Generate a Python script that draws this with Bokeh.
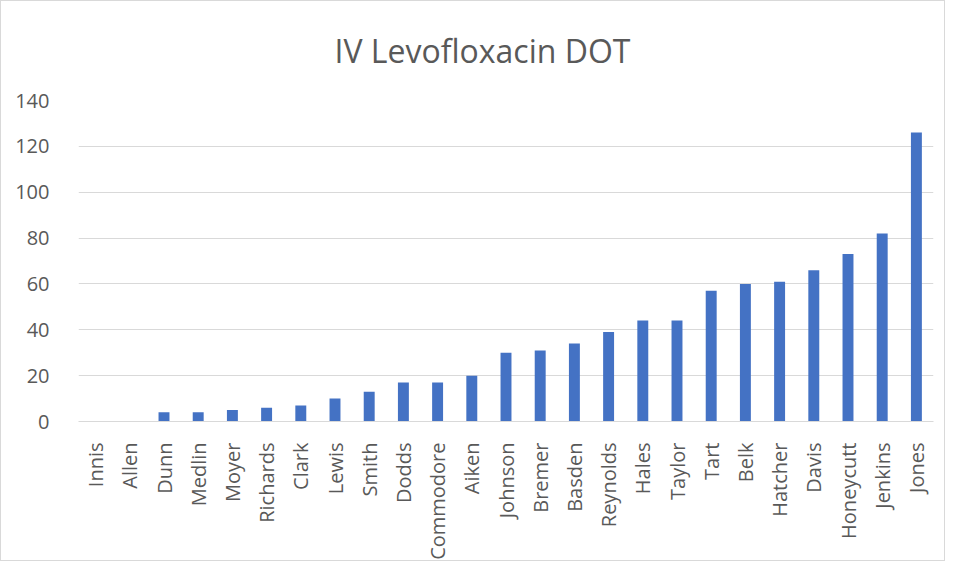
import math
from bokeh.plotting import figure
from bokeh.models import Range1d, SingleIntervalTicker
from bokeh.embed import file_html
from bokeh.resources import INLINE

names = ["Innis", "Allen", "Dunn", "Medlin", "Moyer", "Richards", "Clark", "Lewis",
         "Smith", "Dodds", "Commodore", "Aiken", "Johnson", "Bremer", "Basden",
         "Reynolds", "Hales", "Taylor", "Tart", "Belk", "Hatcher", "Davis",
         "Honeycutt", "Jenkins", "Jones"]
dot_values = [0, 0, 4, 4, 5, 6, 7, 10, 13, 17, 17, 20, 30, 31, 34, 39, 44, 44,
              57, 60, 61, 66, 73, 82, 126]
y_ticks_step = 20
chart_title = "IV Levofloxacin DOT"

TXT = "#595959"
GRID = "#D9D9D9"

p = figure(x_range=names, y_range=Range1d(0, 140), width=945, height=561,
           output_backend="svg", toolbar_location=None, title=chart_title,
           min_border_left=77, min_border_right=13, min_border_top=99,
           min_border_bottom=140)

p.vbar(x=names, top=dot_values, width=0.32, fill_color="#4472C4", line_color=None)

p.title.align = "left"
p.title.vertical_align = "top"
p.title.text_font = "Open Sans"
p.title.text_font_size = "32px"
p.title.text_font_style = "normal"
p.title.text_color = TXT
p.title.standoff = 53
p.title.offset = 256

p.outline_line_color = None
p.xgrid.grid_line_color = None
p.ygrid.grid_line_color = GRID
p.ygrid.grid_line_width = 1

p.yaxis.ticker = SingleIntervalTicker(interval=y_ticks_step)
p.yaxis.axis_line_color = None
p.yaxis.major_tick_line_color = None
p.yaxis.minor_tick_line_color = None
p.yaxis.major_label_text_font = "Open Sans"
p.yaxis.major_label_text_font_size = "20px"
p.yaxis.major_label_text_color = TXT
p.yaxis.major_label_standoff = 23

p.xaxis.axis_line_color = GRID
p.xaxis.major_tick_line_color = None
p.xaxis.minor_tick_line_color = None
p.xaxis.major_label_orientation = math.pi / 2
p.xaxis.major_label_text_font = "Open Sans"
p.xaxis.major_label_text_font_size = "20px"
p.xaxis.major_label_text_color = TXT
p.xaxis.major_label_standoff = 15

p.styles = {"border": "1px solid #D9D9D9"}

open("out.html", "w").write(file_html(p, INLINE))
